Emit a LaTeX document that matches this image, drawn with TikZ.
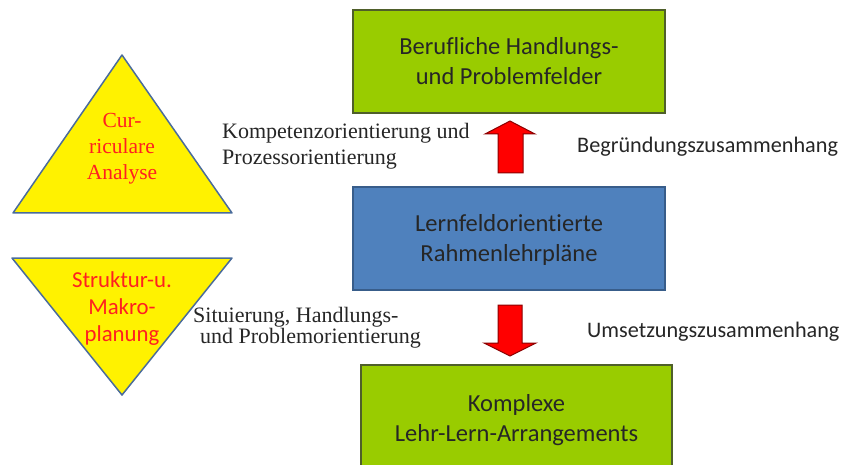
\documentclass[tikz,border=0pt]{standalone}
\usepackage{fontspec}
\setmainfont{Liberation Serif}
\newfontfamily\carl[Ligatures={NoCommon}]{Carlito}
\definecolor{boxgreen}{HTML}{99CC00}
\definecolor{greenedge}{HTML}{4F5F2A}
\definecolor{boxblue}{HTML}{4F81BD}
\definecolor{blueedge}{HTML}{385D8A}
\definecolor{triedge}{HTML}{4A6C9B}
\definecolor{arrowedge}{HTML}{8B0000}
\definecolor{tritext}{HTML}{FF2020}
\tikzset{
  gbox/.style={draw=greenedge, fill=boxgreen, line width=1.2pt},
  bbox/.style={draw=blueedge, fill=boxblue, line width=1.2pt},
  boxtext/.style={font=\carl\fontsize{24.5}{30}\selectfont, align=center, text=black!85, inner sep=0pt},
  tri/.style={draw=triedge, fill=yellow, line width=1.5pt, line join=round},
  blockarrow/.style={draw=arrowedge, fill=red, line width=1pt, line join=miter},
  serlabel/.style={font=\fontsize{22}{26}\selectfont, align=left, inner sep=0pt, text=black!85},
  carllabel/.style={font=\carl\fontsize{22.2}{26}\selectfont, inner sep=0pt, text=black!85}
}
\begin{document}
\begin{tikzpicture}[x=1pt, y=-1pt]
\useasboundingbox (0,0) rectangle (843,465);
\clip (0,0) rectangle (843,465);
\fill[white] (0,0) rectangle (843,465);

% boxes
\draw[gbox] (353,10) rectangle (665,113);
\node[boxtext] (top) at (509,61.5) {Berufliche Handlungs-\\und Problemfelder};
\draw[bbox] (353,187) rectangle (665,290);
\node[boxtext] (mid) at (509,240) {Lernfeldorientierte\\Rahmenlehrpläne};
\draw[gbox] (361,365) rectangle (672,480);
\node[boxtext] (bot) at (516.5,420) {Komplexe\\Lehr-Lern-Arrangements};

% block arrows
\draw[blockarrow] (510,121) -- (535,134) -- (523,134) -- (523,173) -- (498,173) -- (498,134) -- (485,134) -- cycle;
\draw[blockarrow] (498,305) -- (522,305) -- (522,343) -- (536,343) -- (510,356) -- (484,343) -- (498,343) -- cycle;

% triangles
\draw[tri] (122,55) -- (232,213) -- (13,213) -- cycle;
\node[font=\fontsize{21.5}{26}\selectfont, text=tritext, align=center, inner sep=0pt] (t1) at (122,149) {Cur-\\riculare\\Analyse};
\draw[tri] (12,258) -- (232,258) -- (122,395) -- cycle;
\node[font=\carl\fontsize{22.8}{27}\selectfont, text=tritext, align=center, inner sep=0pt] (t2) at (122,309) {Struktur-u.\\Makro-\\planung};

% labels
\node[serlabel, anchor=west] (l1) at (222,146) {Kompetenzorientierung und\\Prozessorientierung};
\node[serlabel, anchor=west, font=\fontsize{22}{20}\selectfont] (l2) at (193,328) {Situierung, Handlungs-\\\hspace*{7pt}und Problemorientierung};
\node[carllabel, anchor=west] (r1) at (577,147) {Begründungszusammenhang};
\node[carllabel, anchor=west] (r2) at (587,332) {Umsetzungszusammenhang};
\end{tikzpicture}
\end{document}
